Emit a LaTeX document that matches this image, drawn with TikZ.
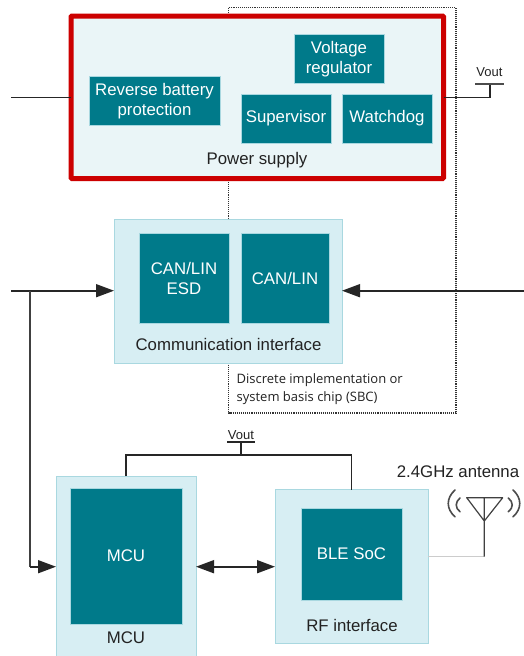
\documentclass[tikz,border=0pt]{standalone}
\usepackage{fontspec}
\setmainfont{Liberation Sans}
\newfontfamily\notefont{Open Sans}
\usetikzlibrary{arrows.meta}
\definecolor{teal1}{HTML}{007A8A}
\definecolor{pale}{HTML}{D7EEF3}
\definecolor{paleedge}{HTML}{A9D8E0}
\definecolor{paler}{HTML}{EAF5F7}
\definecolor{redb}{HTML}{CC0000}
\definecolor{txt}{HTML}{222222}
\tikzset{
  x=1pt,y=-1pt,
  chip/.style={draw=paleedge,line width=0.6pt,fill=teal1,text=white,align=center,inner sep=0pt,outer sep=0pt,font=\fontsize{16.8}{20}\selectfont,anchor=north west},
  group/.style={draw=paleedge,line width=1pt,fill=pale,inner sep=0pt,outer sep=0pt,anchor=north west},
  captext/.style={text=txt,inner sep=0pt,font=\fontsize{16.8}{20}\selectfont},
  wire/.style={draw=black!85,line width=1.2pt},
  big/.style={wire,line width=1.6pt,-{Triangle[length=18pt,width=13pt]}},
  both/.style={wire,line width=1.6pt,{Triangle[length=18pt,width=13pt]}-{Triangle[length=18pt,width=13pt]}},
  vouttext/.style={text=txt,inner sep=0pt,font=\fontsize{13}{14}\selectfont},
  arc/.style={draw=black!70,line width=1.6pt,line cap=round}
}
\newcommand{\boxat}[6]{\node[#1,minimum width=#4pt,minimum height=#5pt] (#2) at #3 {#6};}
\begin{document}
\begin{tikzpicture}
\useasboundingbox (0,0) rectangle (524,656);
\fill[white] (0,0) rectangle (524,656);
% dashed SBC frame
\draw[black!80,line width=1.1pt,densely dotted] (228.5,7.5) rectangle (456,413);
% power supply
\boxat{group,draw=redb,line width=5pt,fill=paler,rounded corners=1pt}{ps}{(71,16)}{372.5}{162.5}{}
\boxat{chip}{vr}{(294,34)}{90}{49.5}{Voltage\\regulator}
\boxat{chip}{rb}{(89,76)}{131}{49.5}{Reverse battery\\protection}
\boxat{chip}{sv}{(241,94)}{90}{49}{Supervisor}
\boxat{chip}{wd}{(342,94)}{90}{49}{Watchdog}
\node[captext] (pst) at (257,160) {Power supply};
\coordinate (pin) at (11,97.5);
\draw[wire] (pin) -- (pin-|ps.west);
\coordinate (vo) at (490,97.5);
\coordinate (vb) at (490,84);
\coordinate (vl) at (475,84);
\coordinate (vr2) at (504,84);
\draw[wire] (vo-|ps.east) -- (vo) -- (vb);
\draw[wire,line width=1.4pt,black!70] (vl) -- (vr2);
\node[vouttext] (v1) at (489.5,72.5) {Vout};
% comm
\boxat{group}{ci}{(114,219)}{228}{144}{}
\boxat{chip}{esd}{(139,233)}{90}{90}{CAN/LIN\\ESD}
\boxat{chip}{can}{(241,233)}{88}{90}{CAN/LIN}
\node[captext] (cit) at (228.5,344) {Communication interface};
\coordinate (cl) at (11,290.7);
\coordinate (cr) at (524,290.7);
\draw[big] (cl) -- (cl-|ci.west);
\draw[big] (cr) -- (cr-|ci.east);
\node[text=txt,inner sep=0pt,anchor=north west,align=left,font=\notefont\fontsize{13}{18}\selectfont] (note) at (236.5,373) {Discrete implementation or\\system basis chip (SBC)};
% MCU
\boxat{group}{mb}{(56,476)}{140}{190}{}
\boxat{chip}{mc}{(70,488)}{112}{136}{MCU}
\node[captext] (mt) at (126,638) {MCU};
% RF
\boxat{group}{rf}{(275,489.5)}{153}{154}{}
\boxat{chip}{ble}{(301,508)}{101}{92}{BLE SoC}
\node[captext] (rt) at (352,625) {RF interface};
% links
\coordinate (j) at (30,290.7);
\coordinate (mi) at (30,566.7);
\draw[wire,line width=1.5pt,black!75] (j) -- (mi);
\draw[big] (mi) -- (mi-|mb.west);
\draw[both] (mb.east|-mi) -- (rf.west|-mi);
% Vout lower
\node[vouttext] (v2) at (241,435) {Vout};
\coordinate (vt) at (241,442);
\coordinate (vj) at (241,455);
\draw[wire,line width=1.4pt] (227,442) -- (255,442);
\draw[wire] (vt) -- (vj);
\coordinate (mtop) at (126,476);
\coordinate (rtop) at (351.5,489.5);
\draw[wire] (mtop) -- (126,455) -- (351.5,455) -- (rtop);
% antenna
\node[captext] (al) at (458,472) {2.4GHz antenna};
\coordinate (ab) at (484.3,556.7);
\coordinate (aa) at (484.3,521);
\coordinate (at) at (484.3,497.7);
\draw[black!20,line width=1pt] (rf.east|-ab) -- (ab);
\draw[black!75,line width=1.2pt,line join=round] (ab) -- (at) (466.7,497.7) -- (502.7,497.7) -- (aa) -- cycle;
\draw[arc] (455,490) .. controls (446,498) and (446,509) .. (455,516.7);
\draw[arc] (460,498) .. controls (455,502) and (455,508) .. (460,511.7);
\draw[arc] (513,490) .. controls (522,498) and (522,509) .. (513,516.7);
\draw[arc] (508.3,498) .. controls (513.5,502) and (513.5,508) .. (508.3,511.7);
\end{tikzpicture}
\end{document}
